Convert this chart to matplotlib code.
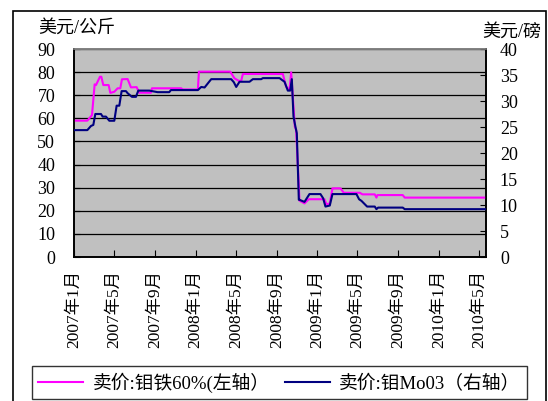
import pandas as pd
import matplotlib
matplotlib.use('Agg')
import matplotlib.pyplot as plt
from matplotlib.patches import Rectangle

plt.rcParams['font.family'] = ['Liberation Serif', 'Noto Sans CJK SC']

# 卖价:钼铁60% (左轴, 美元/公斤)
ferro_dates = ['2007-01-01', '2007-02-10', '2007-02-24', '2007-03-04', '2007-03-08',
               '2007-03-20', '2007-03-24', '2007-03-30', '2007-04-15', '2007-04-20',
               '2007-05-02', '2007-05-12', '2007-05-20', '2007-05-25', '2007-06-11',
               '2007-06-21', '2007-07-08', '2007-07-16', '2007-08-20', '2007-08-23',
               '2007-11-19', '2007-11-23', '2008-01-08', '2008-01-11', '2008-04-14',
               '2008-04-27', '2008-05-10', '2008-05-17', '2008-05-22', '2008-09-19',
               '2008-09-29', '2008-10-09', '2008-10-14', '2008-10-25', '2008-10-29',
               '2008-11-08', '2008-11-23', '2008-12-06', '2009-01-22', '2009-01-28',
               '2009-02-07', '2009-02-15', '2009-03-11', '2009-03-21', '2009-05-08',
               '2009-05-16', '2009-06-22', '2009-06-27', '2009-06-30', '2009-09-14',
               '2009-09-20', '2010-05-22']
ferro_vals = [59, 59, 61.4, 74.7, 74.4,
              78, 78, 74.4, 74.4, 71,
              71.5, 73, 73, 76.9, 77,
              73.4, 73.5, 71.1, 71.1, 73,
              73, 72.5, 72.5, 80.2, 80.2,
              77.3, 76.2, 76.2, 79.2, 79.2,
              73.7, 72.3, 79.9, 56.4, 55,
              24.4, 23.2, 25, 25, 22.8,
              23.2, 29.7, 29.7, 27.8, 27.8,
              27.1, 27.1, 25.7, 26.8, 26.8,
              25.7, 25.7]

# 卖价:钼Mo03 (右轴, 美元/磅)
moo3_dates = ['2007-01-01', '2007-02-10', '2007-02-21', '2007-02-28', '2007-03-06',
              '2007-03-23', '2007-03-28', '2007-04-07', '2007-04-17', '2007-05-02',
              '2007-05-09', '2007-05-17', '2007-05-24', '2007-06-06', '2007-06-11',
              '2007-06-24', '2007-07-06', '2007-07-13', '2007-08-15', '2007-09-09',
              '2007-10-14', '2007-10-19', '2008-01-08', '2008-01-18', '2008-01-28',
              '2008-02-17', '2008-04-17', '2008-04-25', '2008-05-02', '2008-05-12',
              '2008-06-11', '2008-06-21', '2008-07-16', '2008-07-21', '2008-09-09',
              '2008-09-24', '2008-10-04', '2008-10-11', '2008-10-16', '2008-10-21',
              '2008-10-27', '2008-10-31', '2008-11-06', '2008-11-08', '2008-11-23',
              '2008-12-08', '2009-01-10', '2009-01-18', '2009-01-25', '2009-02-07',
              '2009-02-15', '2009-04-28', '2009-05-06', '2009-05-13', '2009-05-30',
              '2009-06-22', '2009-06-27', '2009-07-02', '2009-09-14', '2009-09-20',
              '2010-05-22']
moo3_vals = [24.4, 24.4, 25.2, 25.4, 27.5,
             27.5, 27, 27, 26.2, 26.2,
             29.1, 29.1, 31.9, 31.9, 31.5,
             30.8, 30.8, 32, 32, 31.7,
             31.7, 32.1, 32.1, 32.7, 32.6,
             34.2, 34.2, 33.6, 32.7, 33.7,
             33.7, 34.2, 34.2, 34.4, 34.4,
             33.7, 32, 32, 34.2, 27,
             25, 23.8, 11, 11, 10.6,
             12.1, 12.1, 11.3, 9.7, 9.9,
             12.1, 12.1, 11.1, 10.8, 9.7,
             9.7, 9.2, 9.5, 9.5, 9.2,
             9.2]

tick_months = pd.date_range('2007-01-01', '2010-05-01', freq='4MS')
tick_labels = ['%d年%d月' % (d.year, d.month) for d in tick_months]

fig = plt.figure(figsize=(5.48, 4.01), dpi=100)
# outer chart frame (bottom edge falls outside the picture)
fig.patches.append(Rectangle((13.3 / 548, -0.1), (545.7 - 13.3) / 548, 1.1 - 10.7 / 401,
                             transform=fig.transFigure, fill=False, edgecolor='black',
                             linewidth=1.2, zorder=0))

ax = fig.add_axes([74 / 548, 1 - 257 / 401, (486 - 74) / 548, (257 - 49) / 401])
ax.set_facecolor('#C0C0C0')
ax2 = ax.twinx()

l1, = ax.plot(pd.to_datetime(ferro_dates), ferro_vals, color='#FF00FF', lw=1.5, zorder=3)
l2, = ax2.plot(pd.to_datetime(moo3_dates), moo3_vals, color='#000080', lw=1.5, zorder=3)

ax.set_xlim(pd.Timestamp('2007-01-01'), pd.Timestamp('2010-05-22'))
ax.set_ylim(0, 90)
ax.set_yticks(range(0, 91, 10))
ax2.set_ylim(0, 40)
ax2.set_yticks(range(0, 41, 5))
ax.grid(axis='y', color='black', lw=0.9)
ax.set_axisbelow(True)

ax.set_xticks(tick_months)
ax.set_xticklabels(tick_labels, rotation=90, fontsize=12.5)
ax.tick_params(axis='x', direction='in', length=5, pad=9, color='black')
ax.tick_params(axis='y', direction='in', length=4, pad=13.5, labelsize=13)
ax2.tick_params(axis='y', direction='in', length=4, pad=10, labelsize=13)

for a in (ax, ax2):
    for s in a.spines.values():
        s.set_linewidth(1.2)
    a.spines['top'].set_color('#808080')

fig.text(38 / 548, 1 - 28 / 401, '美元/公斤', fontsize=13, va='center', ha='left')
fig.text(482 / 548, 1 - 32 / 401, '美元/磅', fontsize=13, va='center', ha='left')

leg = fig.legend([l1, l2], ['卖价:钼铁60%(左轴）', '卖价:钼Mo03（右轴）'],
                 loc='upper left', bbox_to_anchor=(31.7 / 548, 1 - 366 / 401, (527 - 31.7) / 548, 0.0),
                 mode='expand', ncol=2, fontsize=13.5, frameon=True, fancybox=False,
                 edgecolor='black', handlelength=2.4, handletextpad=0.5, borderpad=0.35,
                 borderaxespad=0, columnspacing=1.0)
leg.get_frame().set_linewidth(1.0)

fig.savefig('out.png', dpi=100)
